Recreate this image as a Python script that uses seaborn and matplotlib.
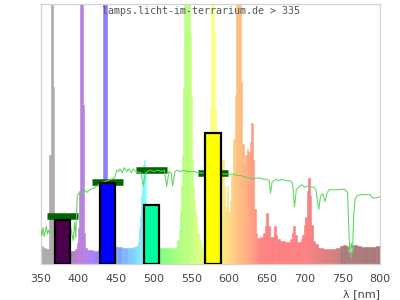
import numpy as np
import pandas as pd
import matplotlib
matplotlib.use("Agg")
import matplotlib.pyplot as plt
import seaborn as sns

# ---------------- data ----------------
# lamp spectrum: each value holds from its wavelength up to the next one (100 = top of plot)
spec_wl = [350, 353, 357, 361.5, 363, 366.5, 367.5, 372, 378, 386, 392, 396, 398.5, 400, 401.3,
           402.3, 406.3, 407.6, 409, 412, 420, 426, 430, 432.5, 437.5, 439.5, 442, 446, 450, 458,
           466, 472, 476, 478.5, 479.8, 480.8, 481.6, 482.4, 483.2, 484, 485, 486, 487, 488.5,
           490, 492, 495, 500, 506, 512, 520, 526, 529, 531, 533, 535, 536.5, 537.5, 538.6, 540,
           547.6, 549.8, 551, 552.2, 553.3, 554.5, 555.5, 556.8, 557.8, 559.9, 562.2, 564.4, 568,
           572, 574.5, 575.4, 576.5, 579.5, 580.7, 582, 585, 589.5, 591, 593, 595, 597, 599, 601,
           603, 605, 607.6, 609.4, 615.5, 617.3, 619, 621, 623, 625, 627, 628.5, 631, 633, 635,
           637, 641, 645, 647, 648.6, 651.7, 654, 659, 660, 662, 664, 668, 674, 680, 683, 685,
           687, 690, 695, 697, 699, 701, 703, 704.5, 707.5, 709, 710.5, 714, 718, 725, 735, 742,
           747, 751, 755, 758, 760, 762, 764, 770, 775, 785, 795]
spec_val = [6.8, 6.2, 5.6, 42, 130, 68, 5.6, 5.3, 5.0, 5.0, 5.0, 5.6, 8, 14, 28,
            130, 61, 12, 6, 5.2, 5.0, 5.3, 8, 130, 30, 12, 8, 6.8, 6.4, 6.3,
            6.2, 6.4, 6.8, 8.5, 11, 14, 18, 22, 26, 30, 34, 38, 40, 36,
            22, 12, 8, 6.5, 6.1, 6.0, 6.0, 6.3, 6.7, 9.2, 13, 20, 30, 42, 67.6, 130,
            88, 64, 40, 30, 24.6, 20, 18.2, 14, 11.8, 9.2, 7.3, 6.7, 7,
            12, 60, 69.5, 130, 89, 60, 30, 16, 18, 40, 30, 22, 30, 20, 24,
            34, 48, 65, 130, 70, 46, 38, 42, 44, 43, 47, 54, 40, 21, 12,
            10, 10.5, 12, 14.4, 19.5, 14.4, 10.5, 12, 14.4, 11, 9.5, 9.0, 8.6, 9.5, 12, 14.4,
            11, 8.5, 9.5, 11, 15, 18, 28, 33, 26, 15, 9, 7.5, 6, 5.6, 5.6, 6,
            6.8, 7.2, 6.8, 4.5, 2.8, 5.0, 7.2, 7, 6.5, 6.7, 7]

# reference (daylight) curve
ref_wl = [350, 351.5, 353, 354.5, 356, 357.5, 359, 360.5, 362, 389.7, 391, 393, 395, 396.5,
          398.4, 400, 402, 405, 408, 411, 415, 420, 425, 428, 448, 450.6, 453, 455, 458, 461,
          464, 467, 470, 472.6, 476, 483, 486, 489, 495, 500, 505, 510, 514, 517, 520, 523,
          525, 528, 531, 535, 540, 545, 550, 555, 558, 600, 605, 610, 615, 620, 627, 631,
          635, 640, 646, 650, 653, 654.8, 657, 662, 666, 670, 675, 681, 684, 686.6, 689, 692,
          696, 700, 704, 708, 712, 715, 718.8, 721, 724, 727, 730, 733, 738, 743, 748, 753,
          757, 758.5, 760, 762, 763.5, 765, 767, 770, 775, 780, 787, 790, 795, 800]
ref_val = [13, 11, 14, 10.5, 12.5, 14.5, 11.5, 13, 12, 14, 12, 9, 16, 10,
           26, 27, 27.5, 27, 28.5, 27.5, 28.5, 29, 30, 31, 33, 36, 35.5, 36.5, 35, 37,
           35.5, 36.5, 35, 36.5, 35.5, 35, 30, 35, 36, 35.5, 36, 35.5, 36, 29.7, 35.5, 35,
           30, 35.5, 36, 35.5, 36, 35.5, 35.5, 35.5, 35, 34.5, 34.5, 34, 34, 33.5, 33, 32.5,
           33, 33, 32.5, 32.5, 32, 27.2, 31.5, 32.5, 32, 32.5, 32, 31.9, 31, 22, 28.5, 29.5,
           30.4, 29.5, 30, 29.5, 29.5, 28.5, 21, 26, 27, 24, 27.5, 28.5, 28.5, 28.5, 28.7, 28.7,
           27.5, 15, 4.2, 8, 4.2, 18, 25, 26.3, 26.6, 26.6, 26.6, 25.4, 25.4, 25.8]

# band bars and their target markers
band_center = [379, 438.5, 496.5, 578.5]
band_value = [16.7, 31.0, 22.8, 50.1]
band_color = ["#4b004b", "#0000ff", "#00ffa0", "#ffff00"]
target_value = [18.3, 31.5, 36.0, 34.8]

x_ticks = [350, 400, 450, 500, 550, 600, 650, 700, 750, 800]
title_text = "lamps.licht-im-terrarium.de > 335"
x_label = "λ [nm]"


def wl_color(wl):
    """Pale wavelength colour (spectral colour blended 50% with white)."""
    if wl < 375:
        return (0.69, 0.66, 0.69)
    if wl >= 748:
        return (0.67, 0.48, 0.48)
    if wl < 440:
        r, g, b = -(wl - 440) / 60.0, 0.0, 1.0
    elif wl < 490:
        r, g, b = 0.0, (wl - 440) / 50.0, 1.0
    elif wl < 510:
        r, g, b = 0.0, 1.0, -(wl - 510) / 20.0
    elif wl < 580:
        r, g, b = (wl - 510) / 70.0, 1.0, 0.0
    elif wl < 645:
        r, g, b = 1.0, -(wl - 645) / 65.0, 0.0
    else:
        r, g, b = 1.0, 0.0, 0.0
    if wl < 420:
        f = 0.3 + 0.7 * (wl - 380) / 40.0
    elif wl > 700:
        f = 0.3 + 0.7 * (780 - wl) / 80.0
    else:
        f = 1.0
    f = max(min(f, 1.0), 0.3)
    return tuple(0.5 + 0.5 * c * f for c in (r, g, b))


# ---------------- figure ----------------
sns.set_theme(style="white")
plt.rcParams["font.family"] = ["DejaVu Sans"]

fig = plt.figure(figsize=(4, 3), dpi=100)
ax = fig.add_axes([0.1018, 0.12, 0.8482, 0.8683])

spec = pd.DataFrame({"wl": spec_wl, "val": spec_val})
edges = list(spec["wl"]) + [800]
widths = np.diff(edges)
cols = [wl_color(w + d / 2) for w, d in zip(spec["wl"], widths)]
ax.bar(spec["wl"], spec["val"], width=widths, align="edge", color=cols,
       edgecolor=cols, linewidth=0.4, zorder=1)

# target markers (dark green)
ax.hlines(target_value, [c - 20.5 for c in band_center], [c + 20.5 for c in band_center],
          colors="#006400", linewidth=4.7, zorder=2)

# reference line
ref = pd.DataFrame({"wl": ref_wl, "val": ref_val})
sns.lineplot(data=ref, x="wl", y="val", ax=ax, color="#5cd65c", linewidth=0.75,
             zorder=3, estimator=None, sort=False)

# band bars
ax.bar(band_center, band_value, width=20, color=band_color, edgecolor="black",
       linewidth=1.6, zorder=4)

ax.set_xlim(350, 800)
ax.set_ylim(0, 100)
ax.set_xticks(x_ticks)
ax.set_xticklabels([str(t) for t in x_ticks])
ax.set_yticks([])
ax.set_xlabel("")
ax.set_ylabel("")
ax.tick_params(axis="x", length=0, pad=7, labelsize=8, labelcolor="#444444")
for s in ax.spines.values():
    s.set_color("#d3d3d3")
    s.set_linewidth(0.9)

fig.text(0.5025, 1 - 11.5 / 300, title_text, ha="center", va="center",
         family="DejaVu Sans Mono", fontsize=7.2, color="#555555", zorder=10)
fig.text(0.95, 1 - 294 / 300, x_label, ha="right", va="center",
         fontsize=8, color="#444444")

fig.savefig("out.png", dpi=100)
